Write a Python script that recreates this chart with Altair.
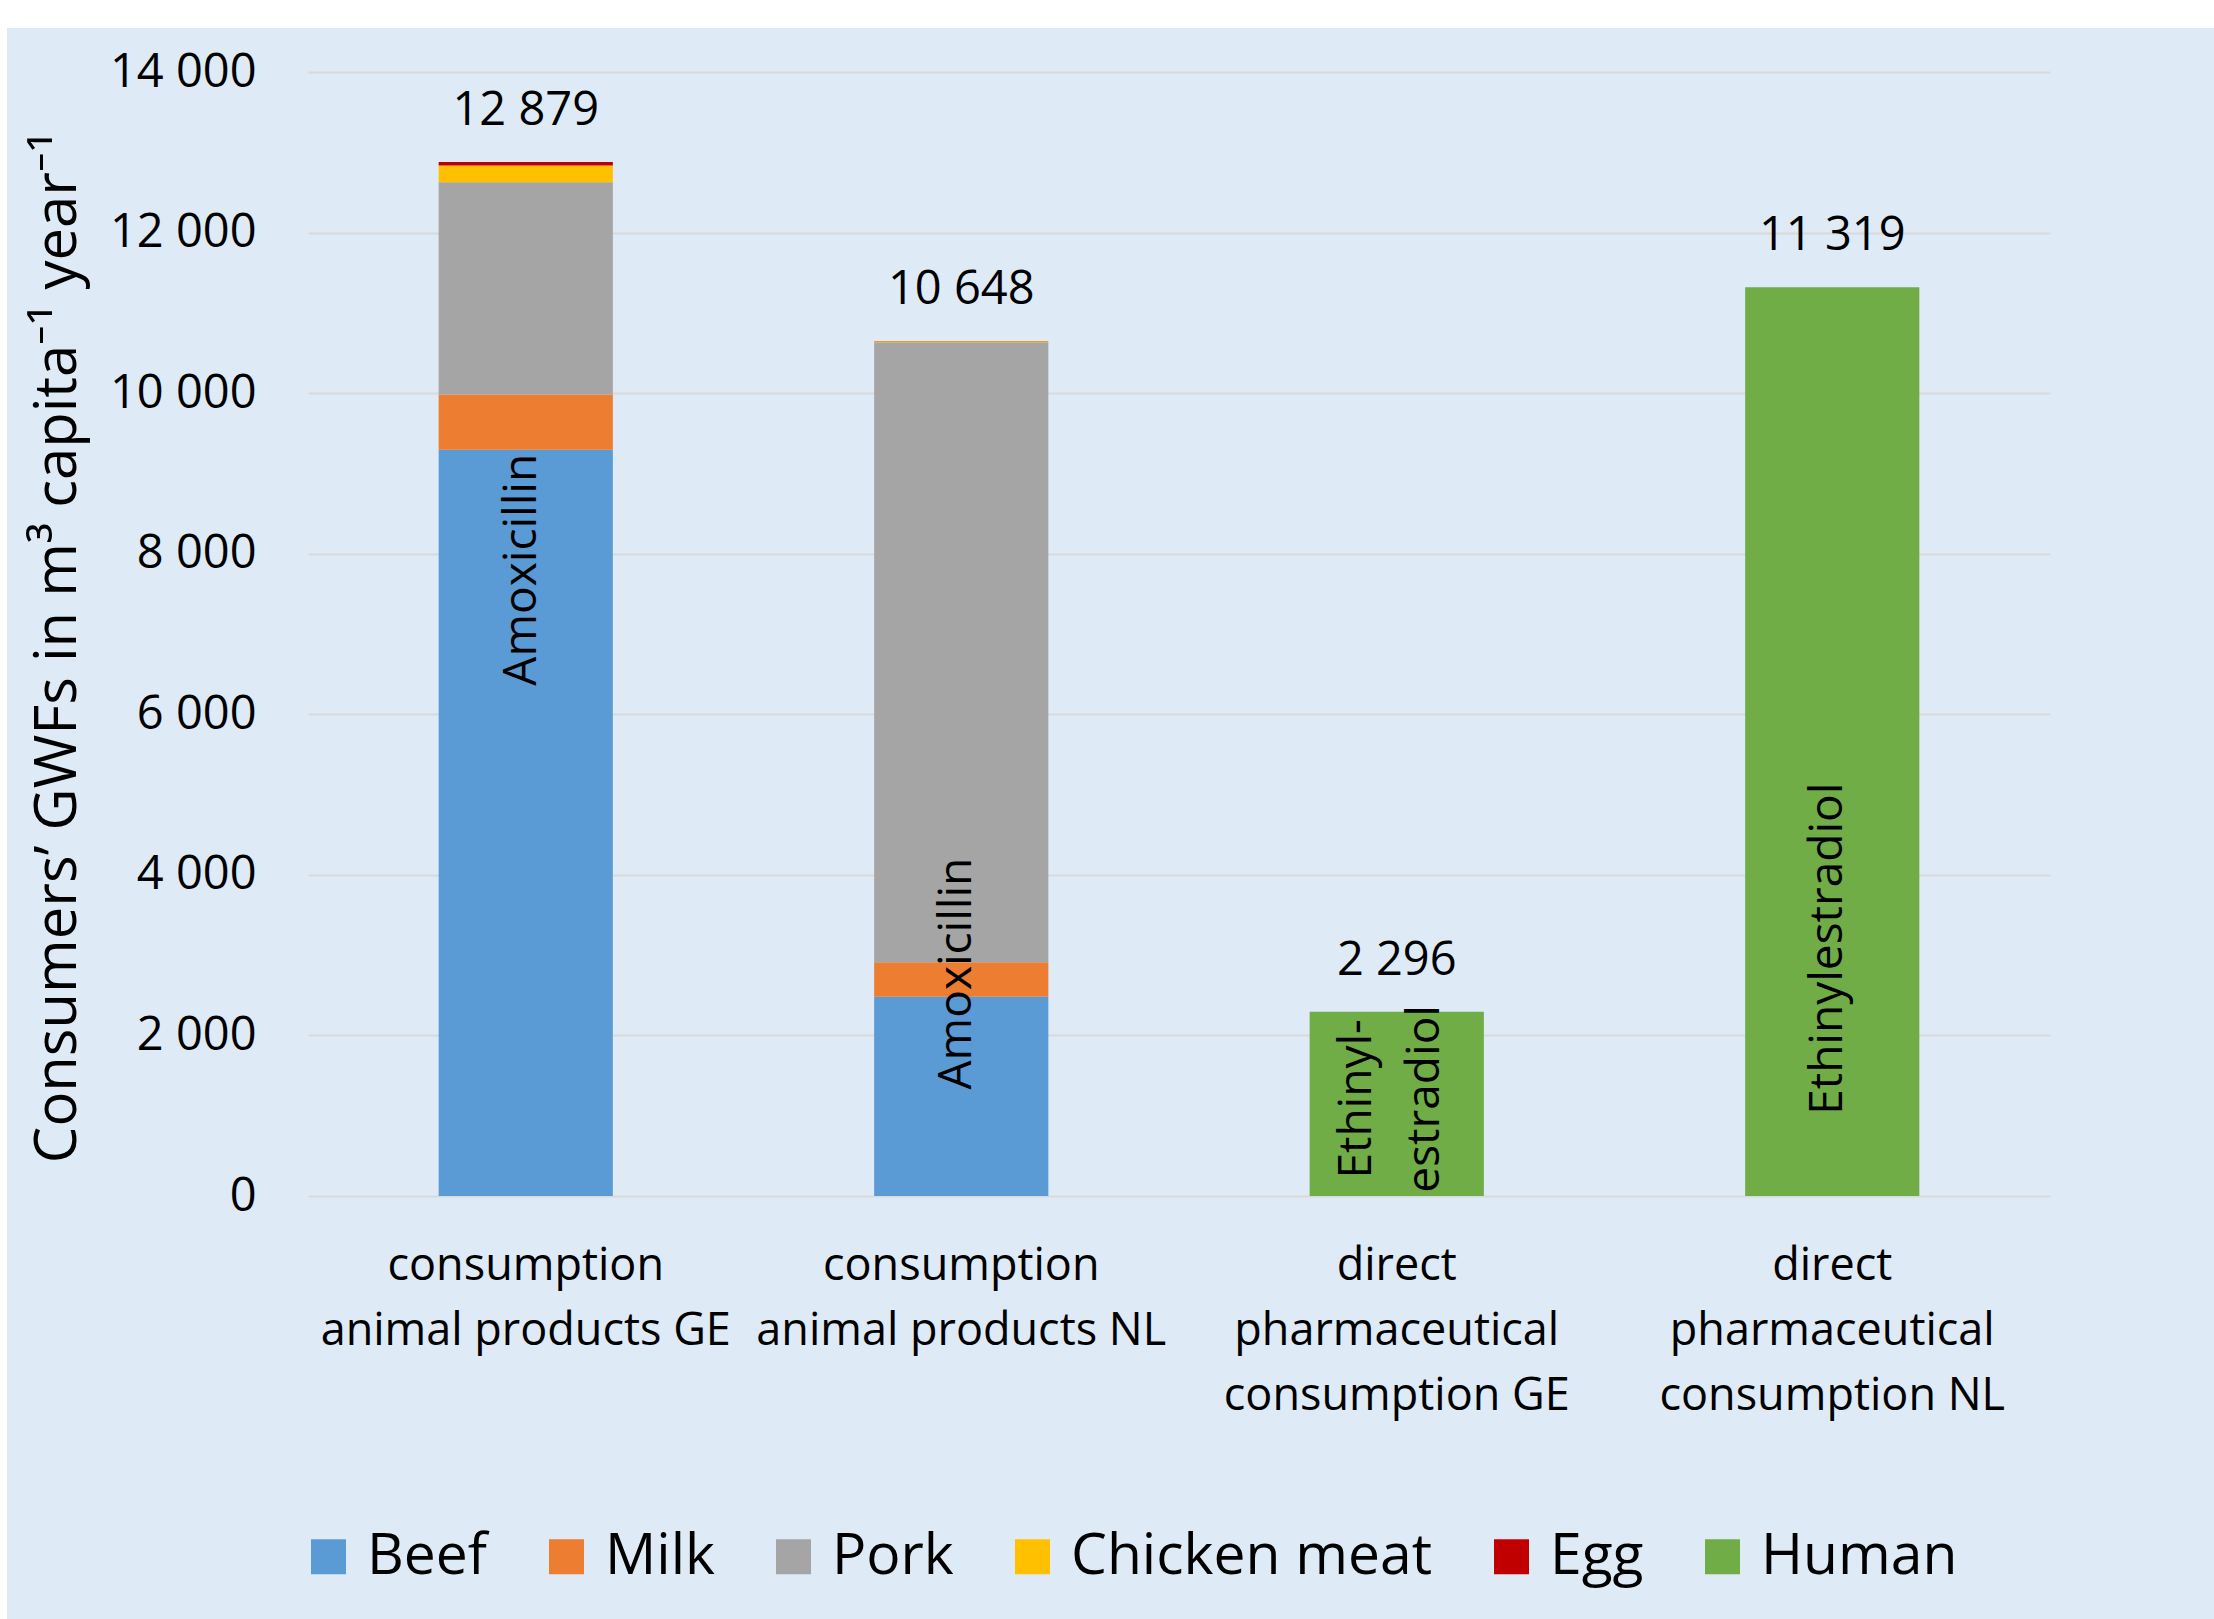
import altair as alt
import pandas as pd

categories = [
    "consumption|animal products GE",
    "consumption|animal products NL",
    "direct|pharmaceutical|consumption GE",
    "direct|pharmaceutical|consumption NL",
]
series = ["Beef", "Milk", "Pork", "Chicken meat", "Egg", "Human"]
colors = ["#5B9BD5", "#ED7D31", "#A5A5A5", "#FFC000", "#C00000", "#70AD47"]

beef = [9294, 2482, 0, 0]
milk = [690, 430, 0, 0]
pork = [2644, 7721, 0, 0]
chicken = [207, 12, 0, 0]
egg = [44, 3, 0, 0]
human = [0, 0, 2296, 11319]

totals = [12879, 10648, 2296, 11319]
total_labels = ["12 879", "10 648", "2 296", "11 319"]

inner_labels = ["Amoxicillin", "Amoxicillin", "Ethinyl-|estradiol", "Ethinylestradiol"]
inner_label_pos = [7800, 2770, 1210, 3080]

FONT = "Open Sans"

rows = []
for s_i, (name, vals) in enumerate(zip(series, [beef, milk, pork, chicken, egg, human])):
    for c, v in zip(categories, vals):
        if v > 0:
            rows.append({"category": c, "series": name, "value": v, "idx": s_i})
df = pd.DataFrame(rows)

tot_df = pd.DataFrame({"category": categories, "total": totals, "label": total_labels})
inner_df = pd.DataFrame({"category": categories, "pos": inner_label_pos, "label": inner_labels})

x_enc = alt.X(
    "category:N",
    sort=categories,
    scale=alt.Scale(paddingInner=0.6, paddingOuter=0.3),
    axis=alt.Axis(
        title=None,
        labelExpr="split(datum.label, '|')",
        labelAngle=0,
        labelFont=FONT,
        labelFontSize=45,
        labelColor="#000000",
        labelLineHeight=65,
        labelPadding=47,
        labelLimit=800,
        ticks=False,
        domain=False,
        grid=False,
    ),
)

y_scale = alt.Scale(domain=[0, 14000], nice=False)

bars = alt.Chart(df).mark_bar().encode(
    x=x_enc,
    y=alt.Y(
        "value:Q",
        stack="zero",
        scale=y_scale,
        axis=alt.Axis(
            title="Consumers’ GWFs in m³ capita⁻¹ year⁻¹",
            values=list(range(0, 14001, 2000)),
            labelExpr="replace(format(datum.value, ','), ',', ' ')",
            labelFont=FONT,
            labelFontSize=47,
            labelColor="#000000",
            labelPadding=52,
            ticks=False,
            domain=False,
            grid=True,
            gridColor="#D9D9D9",
            gridWidth=2,
            titleFont=FONT,
            titleFontSize=58,
            titleFontWeight="normal",
            titleColor="#000000",
            titleAngle=270,
            titleX=-250,
            titleY=575,
            titleAlign="center",
            titleBaseline="middle",
        ),
    ),
    color=alt.Color(
        "series:N",
        scale=alt.Scale(domain=series, range=colors),
        legend=alt.Legend(
            title=None,
            orient="none",
            direction="horizontal",
            legendX=-8,
            legendY=1456,
            symbolType="square",
            symbolSize=1225,
            symbolStrokeWidth=0,
            symbolOpacity=1,
            labelFont=FONT,
            labelFontSize=57,
            labelColor="#000000",
            labelOffset=10,
            columnPadding=50,
            labelLimit=800,
        ),
    ),
    order=alt.Order("idx:Q", sort="ascending"),
)

totals_text = alt.Chart(tot_df).mark_text(
    font=FONT, fontSize=47, color="#000000", baseline="alphabetic", dy=-37
).encode(
    x=alt.X("category:N", sort=categories),
    y=alt.Y("total:Q", scale=y_scale),
    text="label:N",
)

inner_single = alt.Chart(inner_df).transform_filter(
    "indexof(datum.label, '|') < 0"
).mark_text(
    font=FONT, fontSize=46, color="#000000", angle=270, baseline="middle",
    align="center", dy=-4
).encode(
    x=alt.X("category:N", sort=categories),
    y=alt.Y("pos:Q", scale=y_scale),
    text="label:N",
)

inner_multi = alt.Chart(inner_df).transform_filter(
    "indexof(datum.label, '|') >= 0"
).mark_text(
    font=FONT, fontSize=46, color="#000000", angle=270, baseline="middle",
    align="center", lineBreak="|", lineHeight=68, dy=-40
).encode(
    x=alt.X("category:N", sort=categories),
    y=alt.Y("pos:Q", scale=y_scale),
    text="label:N",
)

top_strip = alt.Chart(pd.DataFrame({"a": [0]})).mark_rect(color="#FFFFFF").encode(
    x=alt.value(-320), x2=alt.value(1920), y=alt.value(-80), y2=alt.value(-44)
)
left_strip = alt.Chart(pd.DataFrame({"a": [0]})).mark_rect(color="#FFFFFF").encode(
    x=alt.value(-320), x2=alt.value(-301), y=alt.value(-80), y2=alt.value(1600)
)

chart = alt.layer(bars, totals_text, inner_single, inner_multi, top_strip, left_strip).properties(
    width=1742,
    height=1124,
    autosize=alt.AutoSizeParams(type="none"),
    padding={"left": 308, "top": 72, "right": 164, "bottom": 423},
    background="#DEEBF7",
).configure_view(stroke=None)

chart.save("out.html", embed_options={"renderer": "svg", "actions": False})
